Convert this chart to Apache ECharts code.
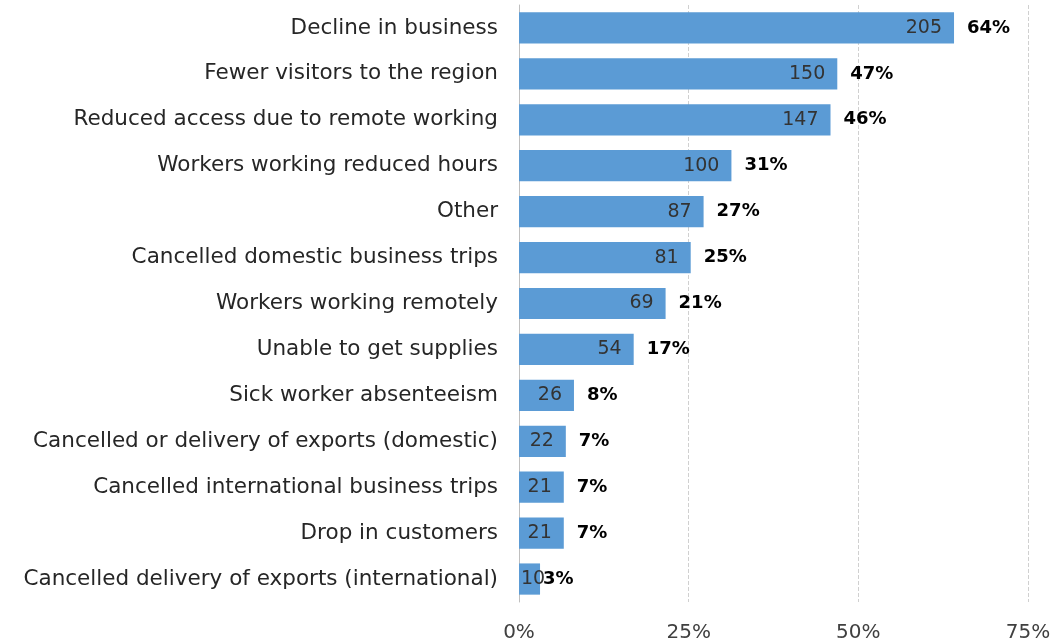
<!DOCTYPE html>
<html>
<head>
<meta charset="utf-8">
<script src="https://cdn.jsdelivr.net/npm/echarts@6/dist/echarts.min.js"></script>
<style>
html,body{margin:0;padding:0;background:#fff;}
#chart{width:1057px;height:643px;}
</style>
</head>
<body>
<div id="chart"></div>
<script>
const categories = [
  "Decline in business",
  "Fewer visitors to the region",
  "Reduced access due to remote working",
  "Workers working reduced hours",
  "Other",
  "Cancelled domestic business trips",
  "Workers working remotely",
  "Unable to get supplies",
  "Sick worker absenteeism",
  "Cancelled or delivery of exports (domestic)",
  "Cancelled international business trips",
  "Drop in customers",
  "Cancelled delivery of exports (international)"
];
const counts = [205, 150, 147, 100, 87, 81, 69, 54, 26, 22, 21, 21, 10];
const shares = [64.1, 46.9, 45.9, 31.3, 27.2, 25.3, 21.6, 16.9, 8.1, 6.9, 6.6, 6.6, 3.1];
const pctLabels = ["64%", "47%", "46%", "31%", "27%", "25%", "21%", "17%", "8%", "7%", "7%", "7%", "3%"];
const xTicks = [0, 25, 50, 75];

const FONT = "DejaVu Sans";
const countData = shares.map(v => v < 5
  ? { value: v, label: { position: 'insideLeft', distance: 2 } }
  : v);
const pctData = shares.map(v => v < 5
  ? { value: v, label: { distance: 3 } }
  : v);

const chart = echarts.init(document.getElementById('chart'));
chart.setOption({
  animation: false,
  textStyle: { fontFamily: FONT },
  grid: { left: 519, right: 29, top: 5, bottom: 41, containLabel: false },
  xAxis: {
    type: 'value', min: 0, max: 75, interval: 25,
    axisLabel: { formatter: v => xTicks.includes(v) ? v + '%' : '', fontSize: 20, color: '#404040', margin: 21, fontFamily: FONT },
    splitLine: { show: true, lineStyle: { color: '#d0d0d0', type: 'dashed', width: 1 } },
    axisLine: { show: false },
    axisTick: { show: false }
  },
  yAxis: {
    type: 'category', inverse: true, data: categories,
    axisLabel: { fontSize: 21.5, color: '#262626', margin: 21, fontFamily: FONT },
    axisLine: { show: true, lineStyle: { color: '#bfbfbf', width: 1 } },
    axisTick: { show: false }
  },
  series: [
    {
      type: 'bar', data: countData, barWidth: '68%',
      itemStyle: { color: '#5b9bd5' },
      label: {
        show: true, position: 'insideRight', distance: 12,
        formatter: p => counts[p.dataIndex],
        fontSize: 19, color: '#333', fontFamily: FONT
      },
      z: 3
    },
    {
      type: 'bar', data: pctData, barWidth: '68%', barGap: '-100%',
      itemStyle: { color: 'rgba(0,0,0,0)' },
      label: {
        show: true, position: 'right', distance: 13,
        formatter: p => pctLabels[p.dataIndex],
        fontSize: 18, fontWeight: 'bold', color: '#000', fontFamily: FONT
      },
      z: 4, silent: true
    }
  ]
});
</script>
</body>
</html>
